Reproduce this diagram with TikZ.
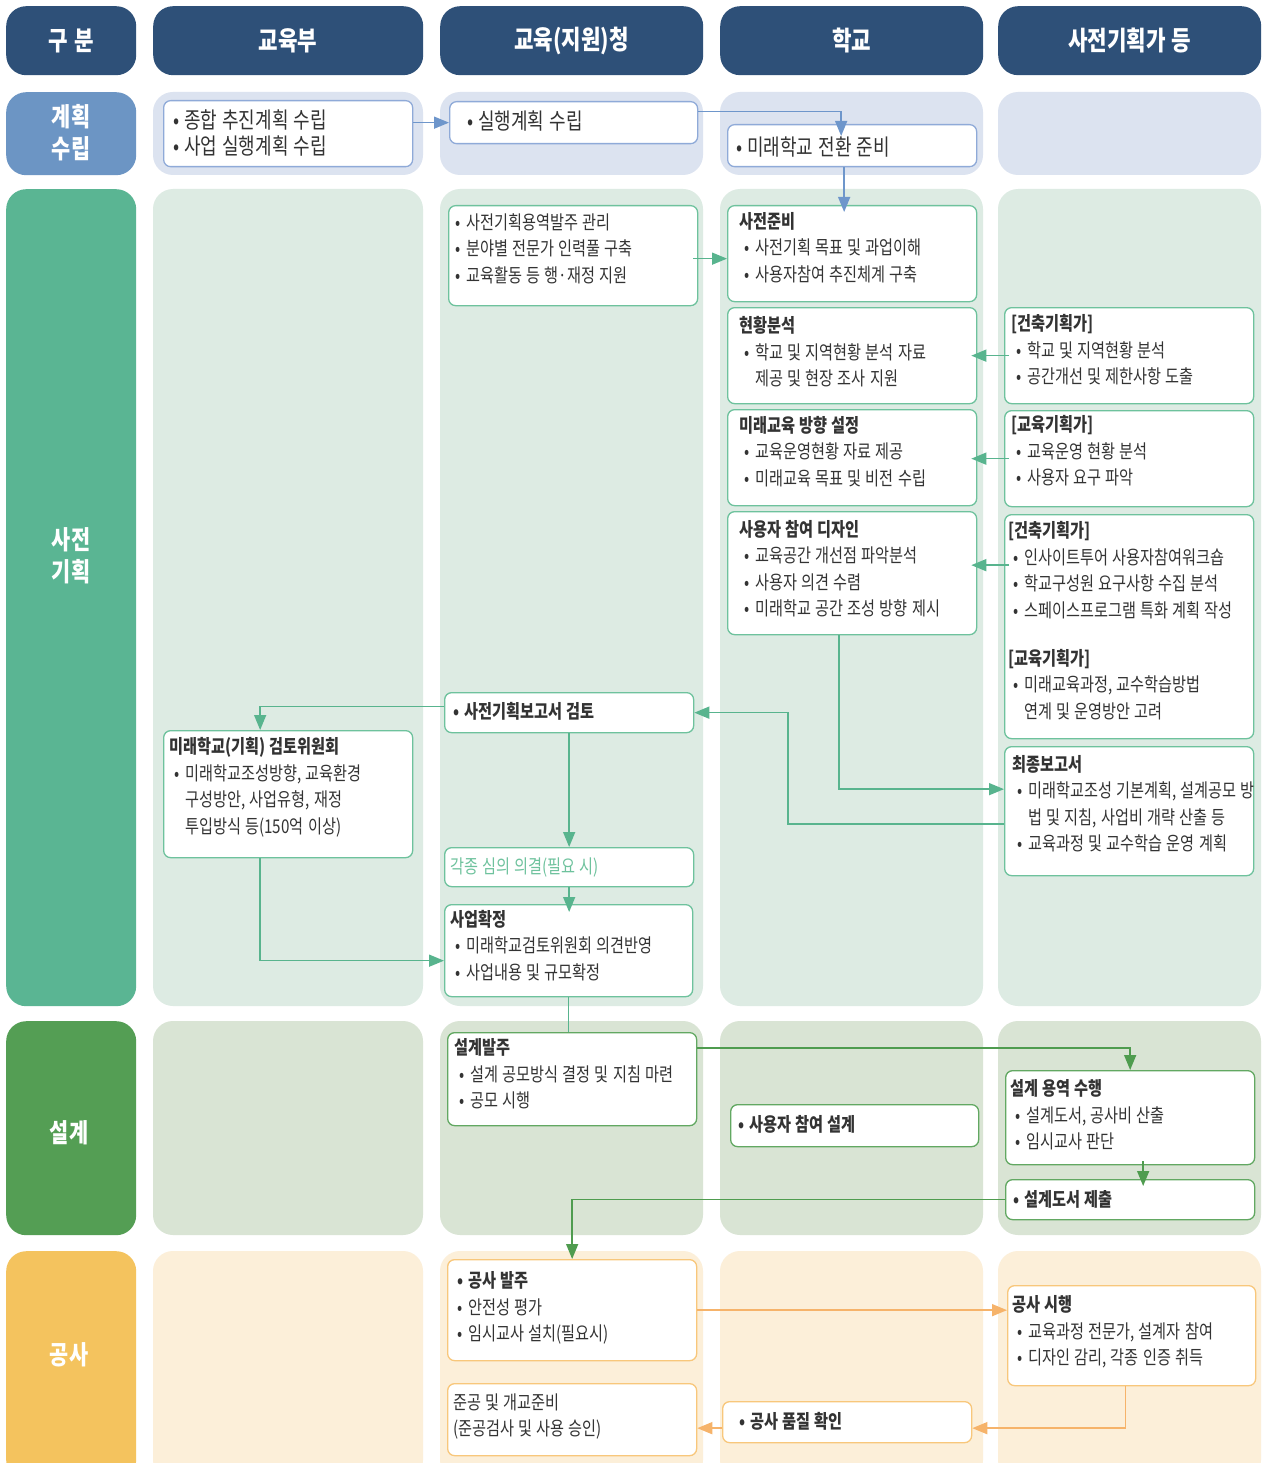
\documentclass[tikz,border=0pt]{standalone}
\usepackage{fontspec}
\setmainfont{Noto Sans CJK KR}[FakeStretch=0.8, WordSpace=1.25]
\usetikzlibrary{arrows.meta}

\definecolor{hdr}{HTML}{2E5078}
\definecolor{ink}{HTML}{333333}
\definecolor{planlbl}{HTML}{6C95C4}
\definecolor{planbg}{HTML}{DCE3F0}
\definecolor{planln}{HTML}{8FAAD8}
\definecolor{planar}{HTML}{6E96CB}
\definecolor{prelbl}{HTML}{5AB593}
\definecolor{prebg}{HTML}{DDEBE3}
\definecolor{preln}{HTML}{6EC29D}
\definecolor{prear}{HTML}{58B48E}
\definecolor{deslbl}{HTML}{549E54}
\definecolor{desbg}{HTML}{D9E4D4}
\definecolor{desln}{HTML}{62A862}
\definecolor{desar}{HTML}{4F9C4F}
\definecolor{bldlbl}{HTML}{F4C35E}
\definecolor{bldbg}{HTML}{FCEFD9}
\definecolor{bldln}{HTML}{F8C77B}
\definecolor{bldar}{HTML}{F6B36A}

\newcommand{\bodyfont}{\fontsize{19}{26.5}\selectfont}
\newcommand{\planfont}{\fontsize{22.5}{26}\selectfont}
\newcommand{\hdrfont}{\fontsize{26.5}{30}\selectfont\bfseries}
\newcommand{\lblfont}{\fontsize{26}{32}\selectfont\bfseries}
\newcommand{\bul}{\makebox[11pt][l]{•}}
\newcommand{\sbul}{\hspace*{5pt}\bul}
\newcommand{\sind}{\hspace*{16pt}}

\tikzset{
  hdrbox/.style={fill=hdr, rounded corners=20pt, text=white, font=\hdrfont,
    anchor=north west, inner sep=0, minimum height=69pt},
  lblbox/.style={rounded corners=20pt, anchor=north west, inner sep=0, minimum width=130pt},
  lbltxt/.style={text=white, font=\lblfont, align=center, inner sep=0},
  card/.style={draw, fill=white, rounded corners=7pt, line width=1.3pt,
    anchor=north west, inner sep=0},
  txt/.style={anchor=north west, inner sep=0, align=left, font=\bodyfont, text=ink},
  arr/.style={-{Triangle[length=15pt,width=12pt]}, line width=1.5pt},
  into/.style={shorten >=-#1}
}

\begin{document}
\begin{tikzpicture}[x=1pt,y=-1pt]
  \useasboundingbox (0,0) rectangle (1263,1463);
  \clip (0,0) rectangle (1263,1463);
  \fill[white] (0,0) rectangle (1263,1463);

  % background panes
  \foreach \ya/\yb/\c in {92/175/planbg, 189/1006/prebg, 1021/1235/desbg, 1251/1480/bldbg}
    \foreach \xa/\xb in {153/423, 440/703, 720/983, 998/1261}
      \fill[\c, rounded corners=20pt] (\xa,\ya) rectangle (\xb,\yb);

  % headers
  \node[hdrbox, minimum width=130pt] (h0) at (6,6) {구 분};
  \node[hdrbox, minimum width=270pt] (h1) at (153,6) {교육부};
  \node[hdrbox, minimum width=263pt] (h2) at (440,6) {교육(지원)청};
  \node[hdrbox, minimum width=263pt] (h3) at (720,6) {학교};
  \node[hdrbox, minimum width=263pt] (h4) at (998,6) {사전기획가 등};

  % row labels
  \node[lblbox, fill=planlbl, minimum height=83pt] (r1) at (6,92) {};
  \node[lbltxt] (r1t) at (71,133) {계획\\수립};
  \node[lblbox, fill=prelbl, minimum height=817pt] (r2) at (6,189) {};
  \node[lbltxt] (r2t) at (71,556) {사전\\기획};
  \node[lblbox, fill=deslbl, minimum height=214pt] (r3) at (6,1021) {};
  \node[lbltxt] (r3t) at (69,1133) {설계};
  \node[lblbox, fill=bldlbl, minimum height=229pt] (r4) at (6,1251) {};
  \node[lbltxt] (r4t) at (69,1355) {공사};

  % 계획수립
  \node[card, draw=planln, minimum width=249pt, minimum height=66pt] (plan1) at (163,100) {};
  \node[txt, font=\planfont] (plan1t) at ([xshift=10pt,yshift=-10pt]plan1.north west)
    {\bul 종합 추진계획 수립\\\bul 사업 실행계획 수립};
  \node[card, draw=planln, minimum width=248pt, minimum height=42pt] (plan2) at (449,101) {};
  \node[txt, font=\planfont] (plan2t) at ([xshift=18pt,yshift=-10pt]plan2.north west)
    {\bul 실행계획 수립};
  \node[card, draw=planln, minimum width=249pt, minimum height=42pt] (plan3) at (727,124) {};
  \node[txt, font=\planfont] (plan3t) at ([xshift=9pt,yshift=-13pt]plan3.north west)
    {\bul 미래학교 전환 준비};

  % 사전기획
  \node[card, draw=preln, minimum width=249pt, minimum height=100pt] (preD) at (448,205) {};
  \node[txt] (preDt) at ([xshift=7pt,yshift=-8pt]preD.north west)
    {\bul 사전기획용역발주 관리\\\bul 분야별 전문가 인력풀 구축\\\bul 교육활동 등 행·재정 지원};
  \node[card, draw=preln, minimum width=249pt, minimum height=96pt] (ready) at (727,205) {};
  \node[txt] (readyt) at ([xshift=12pt,yshift=-7pt]ready.north west)
    {\textbf{사전준비}\\\sbul 사전기획 목표 및 과업이해\\\sbul 사용자참여 추진체계 구축};
  \node[card, draw=preln, minimum width=249pt, minimum height=96pt] (status) at (727,307) {};
  \node[txt] (statust) at ([xshift=12pt,yshift=-9.5pt]status.north west)
    {\textbf{현황분석}\\\sbul 학교 및 지역현황 분석 자료\\\sind 제공 및 현장 조사 지원};
  \node[card, draw=preln, minimum width=249pt, minimum height=96pt] (vision) at (727,409) {};
  \node[txt] (visiont) at ([xshift=12pt,yshift=-7pt]vision.north west)
    {\textbf{미래교육 방향 설정}\\\sbul 교육운영현황 자료 제공\\\sbul 미래교육 목표 및 비전 수립};
  \node[card, draw=preln, minimum width=249pt, minimum height=123pt] (udesign) at (727,511) {};
  \node[txt] (udesignt) at ([xshift=12pt,yshift=-9pt]udesign.north west)
    {\textbf{사용자 참여 디자인}\\\sbul 교육공간 개선점 파악분석\\\sbul 사용자 의견 수렴\\\sbul 미래학교 공간 조성 방향 제시};
  \node[card, draw=preln, minimum width=249pt, minimum height=96pt] (arch1) at (1004,307) {};
  \node[txt] (arch1t) at ([xshift=7pt,yshift=-7.5pt]arch1.north west)
    {\textbf{[건축기획가]}\\\sbul 학교 및 지역현황 분석\\\sbul 공간개선 및 제한사항 도출};
  \node[card, draw=preln, minimum width=249pt, minimum height=96pt] (edu1) at (1004,410) {};
  \node[txt] (edu1t) at ([xshift=7pt,yshift=-5.5pt]edu1.north west)
    {\textbf{[교육기획가]}\\\sbul 교육운영 현황 분석\\\sbul 사용자 요구 파악};
  \node[card, draw=preln, minimum width=249pt, minimum height=224pt] (arch2) at (1004,514) {};
  \node[txt] (arch2t) at ([xshift=4pt,yshift=-7.5pt]arch2.north west)
    {\textbf{[건축기획가]}\\\sbul 인사이트투어 사용자참여워크숍\\\sbul 학교구성원 요구사항 수집 분석\\\sbul 스페이스프로그램 특화 계획 작성\\[21.5pt]
     {\textbf{[교육기획가]}}\\\sbul 미래교육과정, 교수학습방법\\\sind 연계 및 운영방안 고려};
  \node[card, draw=preln, minimum width=249pt, minimum height=129pt] (final) at (1004,746) {};
  \node[txt] (finalt) at ([xshift=8pt,yshift=-9pt]final.north west)
    {\textbf{최종보고서}\\\sbul 미래학교조성 기본계획, 설계공모 방\\\sind 법 및 지침, 사업비 개략 산출 등\\\sbul 교육과정 및 교수학습 운영 계획};
  \node[card, draw=preln, minimum width=249pt, minimum height=40pt] (review) at (444,692) {};
  \node[txt, font=\bodyfont\bfseries] (reviewt) at ([xshift=9pt,yshift=-10.5pt]review.north west)
    {\bul 사전기획보고서 검토};
  \node[card, draw=preln, minimum width=249pt, minimum height=127pt] (committee) at (163,730) {};
  \node[txt] (committeet) at ([xshift=6pt,yshift=-7.5pt]committee.north west)
    {\textbf{미래학교(기획) 검토위원회}\\\sbul 미래학교조성방향, 교육환경\\\sind 구성방안, 사업유형, 재정\\\sind 투입방식 등(150억 이상)};
  \node[card, draw=preln, minimum width=249pt, minimum height=39pt] (delib) at (444,847) {};
  \node[txt, text=preln] (delibt) at ([xshift=6pt,yshift=-10.5pt]delib.north west)
    {각종 심의 의결(필요 시)};
  \node[card, draw=preln, minimum width=248pt, minimum height=92pt] (confirm) at (444,904) {};
  \node[txt] (confirmt) at ([xshift=6pt,yshift=-6pt]confirm.north west)
    {\textbf{사업확정}\\\sbul 미래학교검토위원회 의견반영\\\sbul 사업내용 및 규모확정};

  % 설계
  \node[card, draw=desln, minimum width=249pt, minimum height=93pt] (dorder) at (447,1032) {};
  \node[txt] (dordert) at ([xshift=7pt,yshift=-6.5pt]dorder.north west)
    {\textbf{설계발주}\\\sbul 설계 공모방식 결정 및 지침 마련\\\sbul 공모 시행};
  \node[card, draw=desln, minimum width=248pt, minimum height=42pt] (uparti) at (730,1104) {};
  \node[txt, font=\bodyfont\bfseries] (upartit) at ([xshift=8pt,yshift=-11.5pt]uparti.north west)
    {\bul 사용자 참여 설계};
  \node[card, draw=desln, minimum width=249pt, minimum height=94pt] (dservice) at (1005,1070) {};
  \node[txt] (dservicet) at ([xshift=5pt,yshift=-9.5pt]dservice.north west)
    {\textbf{설계 용역 수행}\\\sbul 설계도서, 공사비 산출\\\sbul 임시교사 판단};
  \node[card, draw=desln, minimum width=249pt, minimum height=40pt] (submit) at (1005,1179) {};
  \node[txt, font=\bodyfont\bfseries] (submitt) at ([xshift=8pt,yshift=-11.5pt]submit.north west)
    {\bul 설계도서 제출};

  % 공사
  \node[card, draw=bldln, minimum width=249pt, minimum height=101pt] (corder) at (447,1259) {};
  \node[txt] (cordert) at ([xshift=10pt,yshift=-12.5pt]corder.north west)
    {\textbf{\bul 공사 발주}\\\bul 안전성 평가\\\bul 임시교사 설치(필요시)};
  \node[card, draw=bldln, minimum width=248pt, minimum height=100pt] (cexec) at (1007,1285) {};
  \node[txt] (cexect) at ([xshift=5pt,yshift=-10.5pt]cexec.north west)
    {\textbf{공사 시행}\\\sbul 교육과정 전문가, 설계자 참여\\\sbul 디자인 감리, 각종 인증 취득};
  \node[card, draw=bldln, minimum width=249pt, minimum height=41pt] (quality) at (722,1401) {};
  \node[txt, font=\bodyfont\bfseries] (qualityt) at ([xshift=17pt,yshift=-11.5pt]quality.north west)
    {\bul 공사 품질 확인};
  \node[card, draw=bldln, minimum width=249pt, minimum height=72pt] (done) at (447,1383) {};
  \node[txt] (donet) at ([xshift=6pt,yshift=-10.5pt]done.north west)
    {준공 및 개교준비\\(준공검사 및 사용 승인)};

  % connectors
  \draw[arr, planar] (plan1.east |- plan2.west) -- (plan2.west);
  \draw[arr, planar, into=12pt] ([yshift=11pt]plan2.east) -| ([xshift=-11pt]plan3.north);
  \draw[arr, planar, into=7pt] ([xshift=-8pt]plan3.south) -- ([xshift=-8pt]ready.north);

  \draw[arr, prear, shorten <=-5pt] ([yshift=-3pt]preD.east) -- ([yshift=-3pt]preD.east -| ready.west);
  \draw[arr, prear, into=6pt, shorten <=-5pt] (arch1.west) -- (arch1.west -| status.east);
  \draw[arr, prear, into=6pt, shorten <=-5pt] (edu1.west) -- (edu1.west -| vision.east);
  \draw[arr, prear, into=6pt, shorten <=-5pt] ([yshift=8pt]arch2.west |- udesign.east) -- ([yshift=8pt]udesign.east);
  \draw[arr, prear] ([xshift=-13pt]udesign.south) |- ([yshift=22pt]final.west);
  \draw[arr, prear] ([yshift=-13pt]final.west) -- ++(-216,0) |- (review.east);
  \draw[arr, prear] ([yshift=6pt]review.west) -| ([xshift=-28pt]committee.north);
  \draw[arr, prear] (review.south) -- (review.south |- delib.north);
  \draw[arr, prear, into=8pt] (delib.south) -- (delib.south |- confirm.north);
  \draw[arr, prear] ([xshift=-28pt]committee.south) |- ([yshift=-10pt]confirm.west);
  \draw[prear, line width=1.5pt] (confirm.south) -- (confirm.south |- dorder.north);

  \draw[arr, desar] ([yshift=31pt]dorder.east) -| (dservice.north);
  \draw[arr, desar, into=7pt] ([xshift=13pt,yshift=4pt]dservice.south) -- ([xshift=13pt]dservice.south |- submit.north);
  \draw[arr, desar] (submit.west) -| (corder.north);

  \draw[arr, bldar] (corder.east) -- (corder.east -| cexec.west);
  \draw[arr, bldar] ([xshift=-6pt]cexec.south) |- ([yshift=-6pt]quality.east);
  \draw[arr, bldar] ([yshift=-6pt]quality.west) -- ([yshift=-6pt]quality.west -| done.east);
\end{tikzpicture}
\end{document}
